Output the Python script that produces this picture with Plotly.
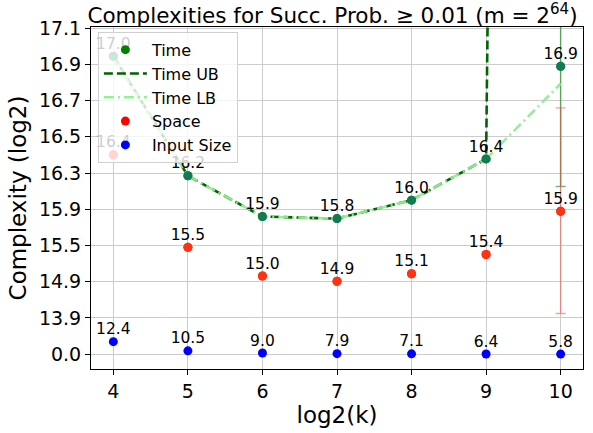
import numpy as np
import plotly.graph_objects as go

# ---- data (complexities in log2) ----
k = [4, 5, 6, 7, 8, 9, 10]
time_vals = [16.97, 16.23, 15.855, 15.834, 16.018, 16.36, 16.92]
time_ub = [16.97, 16.23, 15.855, 15.834, 16.018, 16.36, 21.5]
time_lb = [16.96, 16.23, 15.855, 15.834, 16.018, 16.36, 16.83]
space_vals = [16.39, 15.49, 15.04, 14.94, 15.08, 15.39, 15.91]
input_size = [12.4, 10.5, 9.0, 7.9, 7.1, 6.4, 5.8]

# error bars at k = 10
err_k = [10]
time_err_low = [16.14]
time_err_high = [17.3]
space_err_low = [14.10]
space_err_high = [16.695]

ytick_labels = ["0.0", "13.9", "14.9", "15.5", "15.9", "16.3", "16.5", "16.7", "16.9", "17.1"]
xtick_vals = [4, 5, 6, 7, 8, 9, 10]


def T(v):
    """Scale transform: the y axis is linear in 2**complexity."""
    return 2.0 ** np.asarray(v, dtype=float)


def labels(vals):
    return [f"{v:.1f}" for v in vals]


ytick_vals = np.linspace(1.0, 2.0 ** 17.1, len(ytick_labels))
y_range = [-6380, 140950]

FONT = "DejaVu Sans"
LBL = 15.5

fig = go.Figure()

# error bars at k=10 (drawn first, below the markers)
fig.add_trace(go.Scatter(
    x=err_k, y=T([time_vals[-1]]), mode="markers", showlegend=False, hoverinfo="skip",
    marker=dict(size=2, color="rgba(0,0,0,0)"),
    error_y=dict(type="data", symmetric=False, visible=True,
                 array=T(time_err_high) - T([time_vals[-1]]),
                 arrayminus=T([time_vals[-1]]) - T(time_err_low),
                 color="rgba(0,128,0,0.55)", thickness=1.5, width=5),
))
fig.add_trace(go.Scatter(
    x=err_k, y=T([space_vals[-1]]), mode="markers", showlegend=False, hoverinfo="skip",
    marker=dict(size=2, color="rgba(0,0,0,0)"),
    error_y=dict(type="data", symmetric=False, visible=True,
                 array=T(space_err_high) - T([space_vals[-1]]),
                 arrayminus=T([space_vals[-1]]) - T(space_err_low),
                 color="rgba(240,80,70,0.55)", thickness=1.4, width=5),
))

# legend-carrying traces
fig.add_trace(go.Scatter(
    x=k, y=T(time_vals), mode="markers", name="Time",
    marker=dict(size=9, color="#008000"), legendrank=1,
))
fig.add_trace(go.Scatter(
    x=k, y=T(time_ub), mode="lines", name="Time UB", legendrank=2,
    line=dict(color="#006400", width=2.6, dash="9px,4px"),
))
fig.add_trace(go.Scatter(
    x=k, y=T(time_lb), mode="lines", name="Time LB", legendrank=3,
    line=dict(color="rgba(144,238,144,0.95)", width=2.6, dash="10px,4px,2px,4px"),
))
fig.add_trace(go.Scatter(
    x=k, y=T(space_vals), mode="markers", name="Space",
    marker=dict(size=9, color="#ff0000"), legendrank=4,
))
fig.add_trace(go.Scatter(
    x=k, y=T(input_size), mode="markers", name="Input Size",
    marker=dict(size=9, color="#0000ff"), legendrank=5,
))
# plotted overlays with their blended appearance
fig.add_trace(go.Scatter(
    x=k, y=T(time_vals), mode="markers", showlegend=False,
    marker=dict(size=9, color="#127a55"),
))
fig.add_trace(go.Scatter(
    x=k, y=T(space_vals), mode="markers", showlegend=False,
    marker=dict(size=9, color="#ff3311"),
))

# value labels above every point (drawn under the legend)
for series in (time_vals, space_vals, input_size):
    fig.add_trace(go.Scatter(
        x=k, y=T(series), mode="markers+text", showlegend=False, hoverinfo="skip",
        marker=dict(size=4, color="rgba(0,0,0,0)"),
        text=labels(series), textposition="top center",
        textfont=dict(family=FONT, size=LBL, color="black"),
    ))

fig.update_layout(
    width=593, height=433,
    margin=dict(l=91, r=9, t=27, b=60),
    paper_bgcolor="white", plot_bgcolor="white",
    font=dict(family=FONT, color="black"),
    title=dict(text="Complexities for Succ. Prob. ≥ 0.01 (m = 2<sup>64</sup>)",
               font=dict(family=FONT, size=21.5, color="black"),
               x=332.5 / 593, xanchor="center",
               yref="container", y=1 - 23 / 433, yanchor="bottom"),
    legend=dict(x=0.014, y=0.986, xanchor="left", yanchor="top",
                bgcolor="rgba(255,255,255,0.8)", bordercolor="#d0d0d0", borderwidth=1,
                font=dict(family=FONT, size=16, color="black"),
                itemwidth=43, traceorder="normal"),
    showlegend=True,
)

fig.update_xaxes(
    range=[3.7, 10.3], tickmode="array", tickvals=xtick_vals,
    showgrid=True, gridcolor="#cccccc", gridwidth=1, zeroline=False,
    showline=True, linecolor="black", linewidth=1, mirror=True,
    ticks="outside", ticklen=5, tickcolor="black",
    tickfont=dict(family=FONT, size=19, color="black"),
    title=dict(text="log2(k)", font=dict(family=FONT, size=23, color="black"), standoff=6),
)
fig.update_yaxes(
    range=y_range, tickmode="array", tickvals=ytick_vals, ticktext=ytick_labels,
    showgrid=True, gridcolor="#cccccc", gridwidth=1, zeroline=False,
    showline=True, linecolor="black", linewidth=1, mirror=True,
    ticks="outside", ticklen=5, tickcolor="black",
    tickfont=dict(family=FONT, size=19, color="black"),
    title=dict(text="Complexity (log2)", font=dict(family=FONT, size=23, color="black"), standoff=5),
)

fig.write_html("out.html")
